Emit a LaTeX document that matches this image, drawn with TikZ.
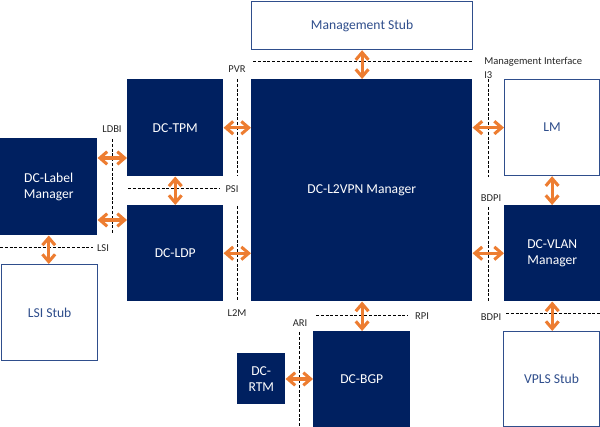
\documentclass[tikz,border=0pt]{standalone}
\usepackage{fontspec}
\setmainfont{Carlito}
\usetikzlibrary{arrows.meta}
\definecolor{navy}{RGB}{0,32,96}
\definecolor{stubblue}{RGB}{47,78,140}
\definecolor{orng}{RGB}{237,125,49}
\tikzset{
  dcbox/.style={rectangle, fill=navy, draw=none, text=white, inner sep=0pt, anchor=north west, align=center, font=\fontsize{10.2}{12.2}\selectfont},
  stubbox/.style={rectangle, fill=white, draw=stubblue, line width=0.9pt, text=stubblue, inner sep=0pt, anchor=north west, align=center, font=\fontsize{10.2}{12.2}\selectfont},
  biarrow/.style={draw=orng, line width=2.3pt, {Straight Barb[length=5.5pt,width=9.5pt]}-{Straight Barb[length=5.5pt,width=9.5pt]}},
  iface/.style={draw=black, line width=0.75pt, dash pattern=on 2.2pt off 1.4pt},
  lbl/.style={font=\fontsize{7.9}{9}\selectfont, text=black!85, inner sep=0pt}
}
\begin{document}
\begin{tikzpicture}[x=0.75pt,y=-0.75pt]
\useasboundingbox (0,0) rectangle (600,427);
% boxes
\node[stubbox, minimum width=221*0.75pt, minimum height=48*0.75pt] (mgmt) at (251,1) {Management Stub};
\node[dcbox, minimum width=221*0.75pt, minimum height=222*0.75pt] (l2vpn) at (251,79) {DC-L2VPN Manager};
\node[dcbox, minimum width=96*0.75pt, minimum height=97*0.75pt] (tpm) at (127,79) {DC-TPM};
\node[dcbox, minimum width=96*0.75pt, minimum height=96*0.75pt] (ldp) at (127,205) {DC-LDP};
\node[dcbox, minimum width=97*0.75pt, minimum height=97*0.75pt] (lblmgr) at (0,138) {DC-Label\\Manager};
\node[stubbox, minimum width=96*0.75pt, minimum height=96*0.75pt] (lsistub) at (1,264) {LSI Stub};
\node[stubbox, minimum width=95*0.75pt, minimum height=96*0.75pt] (lm) at (504,79) {LM};
\node[dcbox, minimum width=96*0.75pt, minimum height=96*0.75pt] (vlan) at (504,205) {DC-VLAN\\Manager};
\node[stubbox, minimum width=96*0.75pt, minimum height=95*0.75pt] (vpls) at (503,331) {VPLS Stub};
\node[dcbox, minimum width=97*0.75pt, minimum height=96*0.75pt] (bgp) at (313,331) {DC-BGP};
\node[dcbox, minimum width=48*0.75pt, minimum height=51*0.75pt] (rtm) at (237,353) {DC-\\RTM};
% interface lines
\draw[iface] (253,62) -- (473,62);
\draw[iface] (237,79) -- (237,176);
\draw[iface] (237,206) -- (237,300);
\draw[iface] (112,139) -- (112,234);
\draw[iface] (128,189) -- (220,189);
\draw[iface] (0,248) -- (93,248);
\draw[iface] (488,79) -- (488,177);
\draw[iface] (488,207) -- (488,301);
\draw[iface] (506,314) -- (600,314);
\draw[iface] (316,316) -- (408,316);
\draw[iface] (299,332) -- (299,427);
% labels
\node[lbl] (tPVR) at (237,69) {PVR};
\node[lbl, anchor=west] (tMI) at (484,62) {Management Interface};
\node[lbl, anchor=west] (tI3) at (484,75) {I3};
\node[lbl] (tLDBI) at (112,129) {LDBI};
\node[lbl] (tPSI) at (232,189) {PSI};
\node[lbl] (tLSI) at (103,248) {LSI};
\node[lbl] (tL2M) at (237,313) {L2M};
\node[lbl] (tARI) at (300,323) {ARI};
\node[lbl] (tRPI) at (422,316) {RPI};
\node[lbl] (tBDPI1) at (491,198) {BDPI};
\node[lbl] (tBDPI2) at (491,317) {BDPI};
% helper coordinates
\coordinate (ya) at (0,158);
\coordinate (yb) at (0,220);
\coordinate (yc) at (0,379);
% connectors
\draw[biarrow] (mgmt.south) -- (mgmt.south |- l2vpn.north);
\draw[biarrow] (tpm.east) -- (tpm.east -| l2vpn.west);
\draw[biarrow] (ldp.east) -- (ldp.east -| l2vpn.west);
\draw[biarrow] (tpm.south) -- (tpm.south |- ldp.north);
\draw[biarrow] (lblmgr.east |- ya) -- (tpm.west |- ya);
\draw[biarrow] (lblmgr.east |- yb) -- (ldp.west |- yb);
\draw[biarrow] (lblmgr.south) -- (lblmgr.south |- lsistub.north);
\draw[biarrow] (l2vpn.east |- lm.east) -- (lm.west);
\draw[biarrow] (lm.south) -- (lm.south |- vlan.north);
\draw[biarrow] (l2vpn.east |- vlan.west) -- (vlan.west);
\draw[biarrow] (vlan.south) -- (vlan.south |- vpls.north);
\draw[biarrow] (mgmt.south |- l2vpn.south) -- (mgmt.south |- bgp.north);
\draw[biarrow] (rtm.east |- yc) -- (bgp.west |- yc);
\end{tikzpicture}
\end{document}
